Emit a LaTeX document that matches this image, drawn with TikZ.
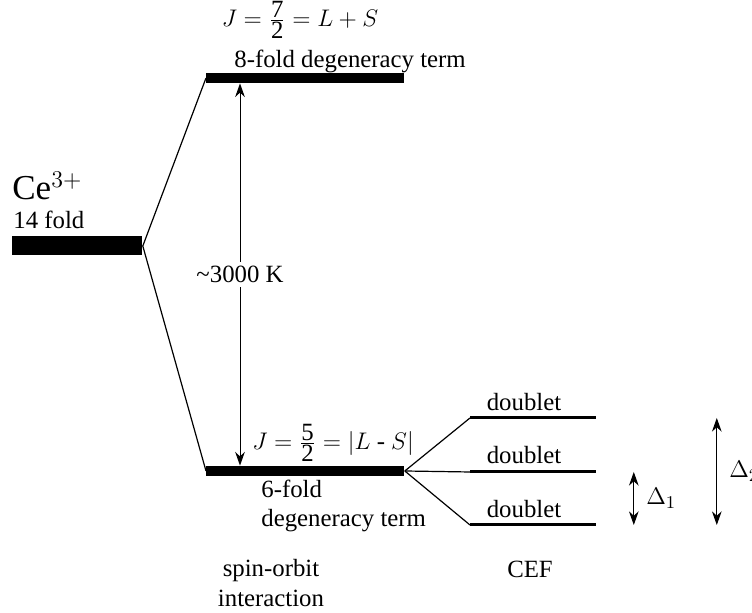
\documentclass[tikz,border=0pt]{standalone}
\usepackage{amsmath}
\usepackage{fontspec}
\setmainfont{Liberation Serif}
\usetikzlibrary{arrows.meta,calc,positioning}
\tikzset{
  wire/.style={black,line width=0.6pt},
  span/.style={{Stealth[length=2.4mm,width=1.7mm]}-{Stealth[length=2.4mm,width=1.7mm]},line width=0.5pt},
  level/.style={fill=black,draw=none,inner sep=0pt,minimum height=5pt,minimum width=99pt,anchor=west},
  ground/.style={level,minimum height=9.5pt,minimum width=65pt},
  cef/.style={level,minimum height=1.5pt,minimum width=63pt},
  lab/.style={font=\fontsize{12.4}{14.8}\selectfont,inner sep=0pt},
  big/.style={font=\fontsize{17.5}{20}\selectfont,inner sep=0pt},
}

\begin{document}
\begin{tikzpicture}[x=0.5pt,y=-0.5pt]
  \path[use as bounding box] (0,0) rectangle (752,613);

  % energy levels
  \node[ground] (ce) at (12,246) {};
  \node[level] (jhigh) at (206,78) {};
  \node[level] (jlow) at (206,471) {};
  \node[cef] (cefa) at (470,418) {};
  \node[cef] (cefb) at (470,472) {};
  \node[cef] (cefc) at (470,525) {};

  \draw[wire] (ce.east) -- (jhigh.west);
  \draw[wire] (ce.east) -- (jlow.west);
  \draw[wire] (jlow.east) -- (cefa.west);
  \draw[wire] (jlow.east) -- (cefb.west);
  \draw[wire] (jlow.east) -- (cefc.west);

  % labels
  \node[big,anchor=west] (celab) at (12,186) {Ce$^{3+}$};
  \node[lab,anchor=west] (fold14) at (13,220) {14 fold};
  \node[lab] (j7) at (300,20) {$J=\frac{\mbox{7}}{\mbox{2}}=L+S$};
  \node[lab,anchor=west] (fold8) at (234,61) {8-fold degeneracy term};
  \node[lab] (j5) at (333,443) {$J=\frac{\mbox{5}}{\mbox{2}}=|L\text{ - }S|$};
  \node[lab,anchor=west,align=left] (fold6) at (261,506) {6-fold\\degeneracy term};
  \node[lab] (dbla) at (524,402) {doublet};
  \node[lab] (dblb) at (524,455) {doublet};
  \node[lab] (dblc) at (524,509) {doublet};
  \node[lab,align=center] (spinorbit) at (271,583) {spin-orbit\\interaction};
  \node[lab] (ceflab) at (530,569) {CEF};

  % splittings
  \draw[span] ($(jhigh.south west)+(34,0)$) -- ($(jlow.north west)+(34,0)$)
    node[lab,midway,fill=white,inner sep=2pt] (gap) {\textasciitilde3000 K};
  \draw[span] ($(cefb.east)+(37,0)$) -- ($(cefc.east)+(37,0)$)
    node[lab,midway,right=6pt] (delta1) {$\Delta_1$};
  \draw[span] ($(cefa.east)+(120,0)$) -- ($(cefc.east)+(120,0)$)
    node[lab,midway,right=6pt] (delta2) {$\Delta_2$};
\end{tikzpicture}
\end{document}
